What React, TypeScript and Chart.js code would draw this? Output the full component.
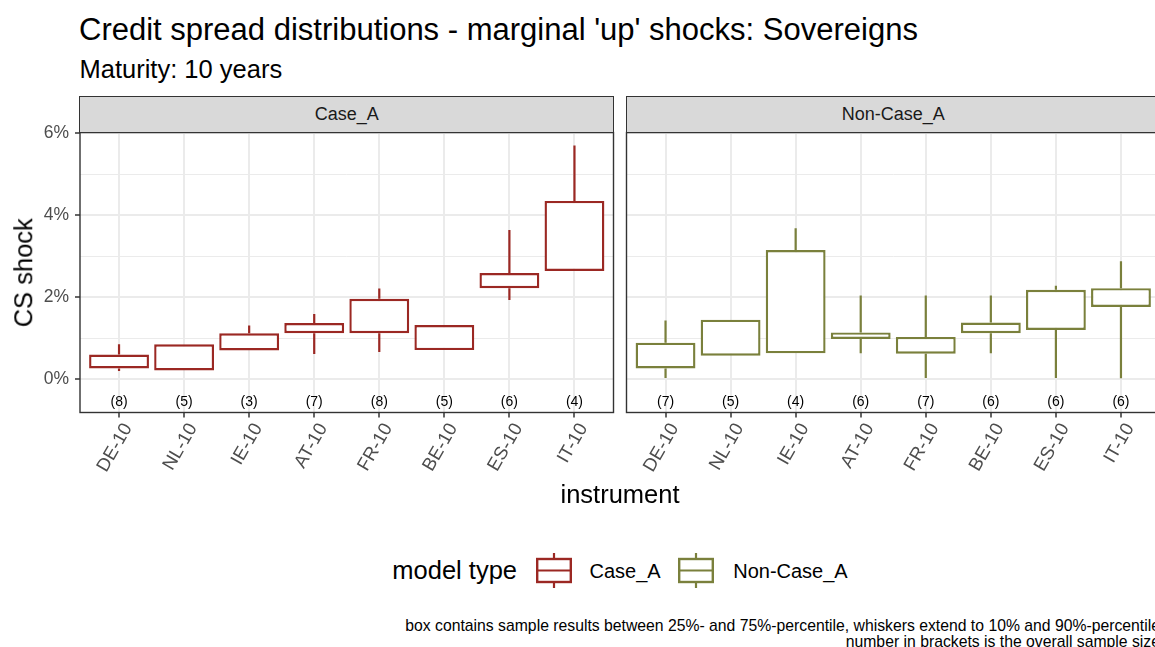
import React, { useEffect, useRef } from "react";
import { Chart, registerables } from "chart.js";

Chart.register(...registerables);

const FONT = "'Liberation Sans', Arial, Helvetica, sans-serif";
Chart.defaults.font.family = FONT;

// ---------- data ----------
const CATEGORIES = ["DE-10", "NL-10", "IE-10", "AT-10", "FR-10", "BE-10", "ES-10", "IT-10"];
const Y_TICKS = [0, 1, 2, 3, 4, 5, 6];
const Y_MIN = -0.815;
const Y_MAX = 6.02;
const X_MIN = -0.6;
const X_MAX = 7.6;
const COUNT_LABEL_Y = -0.55;

// Case_A (percent)
const CASE_A_P10 = [0.2, 0.21, 0.7, 0.61, 0.66, 0.71, 1.93, 2.64];
const CASE_A_P25 = [0.26, 0.21, 0.7, 1.12, 1.12, 0.71, 2.22, 2.64];
const CASE_A_P75 = [0.6, 0.85, 1.12, 1.37, 1.96, 1.32, 2.59, 4.35];
const CASE_A_P90 = [0.85, 0.85, 1.31, 1.59, 2.21, 1.32, 3.64, 5.7];
const CASE_A_N = [8, 5, 3, 7, 8, 5, 6, 4];

// Non-Case_A (percent)
const NON_P10 = [0.0, 0.57, 0.63, 0.63, 0.0, 0.63, 0.0, 0.02];
const NON_P25 = [0.26, 0.57, 0.63, 0.98, 0.62, 1.12, 1.2, 1.76];
const NON_P75 = [0.89, 1.45, 3.15, 1.14, 1.03, 1.38, 2.18, 2.22];
const NON_P90 = [1.43, 1.45, 3.68, 2.04, 2.04, 2.04, 2.28, 2.88];
const NON_N = [7, 5, 4, 6, 7, 6, 6, 6];

const COLOR_A = "#9B2823";
const COLOR_NON = "#7A803C";

const TEXT_COL = "#000000";
const AXIS_TEXT = "#4D4D4D";
const GRID = "#EBEBEB";
const DARK = "#333333";

// ---------- layout ----------
const PANEL_TOP = 132.5;
const PANEL_BOTTOM = 412.5;
const CANVAS_TOP = 122;
const CANVAS_H = 380;

function panelPlugin(counts: number[]) {
  return {
    id: "panelDecor",
    afterDatasetsDraw(chart: any) {
      const { ctx, chartArea: a, scales } = chart;
      ctx.save();
      ctx.font = `14px ${FONT}`;
      ctx.fillStyle = TEXT_COL;
      ctx.textAlign = "center";
      ctx.textBaseline = "middle";
      counts.forEach((n, i) => {
        ctx.fillText(`(${n})`, scales.x.getPixelForValue(i), scales.y.getPixelForValue(COUNT_LABEL_Y));
      });
      ctx.strokeStyle = DARK;
      ctx.lineWidth = 1.4;
      ctx.strokeRect(a.left, a.top, a.right - a.left, a.bottom - a.top);
      ctx.restore();
    },
  };
}

type PanelProps = {
  p10: number[];
  p25: number[];
  p75: number[];
  p90: number[];
  counts: number[];
  color: string;
  showY: boolean;
  canvasLeft: number;
  canvasWidth: number;
  padLeft: number;
  padRight: number;
  yWidth: number;
};

function BoxPanel(props: PanelProps) {
  const ref = useRef<HTMLCanvasElement>(null);
  useEffect(() => {
    const { p10, p25, p75, p90, counts, color, showY, padLeft, padRight, yWidth } = props;
    const boxes = CATEGORIES.map((_, i) => ({ x: i, y: [p25[i], p75[i]] }));
    const lowW = CATEGORIES.map((_, i) => ({ x: i, y: [p10[i], p25[i]] }));
    const highW = CATEGORIES.map((_, i) => ({ x: i, y: [p75[i], p90[i]] }));
    const whiskerStyle = {
      backgroundColor: color,
      borderWidth: 0,
      grouped: false,
      maxBarThickness: 2.2,
    };
    const xHeight = CANVAS_H - (PANEL_BOTTOM - CANVAS_TOP);
    const chart = new Chart(ref.current as HTMLCanvasElement, {
      type: "bar",
      data: {
        datasets: [
          { label: "low", data: lowW as any, ...whiskerStyle },
          { label: "high", data: highW as any, ...whiskerStyle },
          {
            label: "box",
            data: boxes as any,
            backgroundColor: "#FFFFFF",
            borderColor: color,
            borderWidth: 2.4,
            borderSkipped: false,
            grouped: false,
            barPercentage: 0.92,
            categoryPercentage: 1,
          },
        ],
      },
      options: {
        animation: false,
        responsive: false,
        events: [],
        layout: {
          autoPadding: false,
          padding: { top: PANEL_TOP - CANVAS_TOP, left: padLeft, right: padRight, bottom: 0 },
        },
        plugins: {
          legend: { display: false },
          tooltip: { enabled: false },
        },
        scales: {
          x: {
            type: "linear",
            min: X_MIN,
            max: X_MAX,
            offset: false,
            afterBuildTicks: (s: any) => {
              s.ticks = CATEGORIES.map((_, i) => ({ value: i }));
            },
            afterFit: (s: any) => {
              s.height = xHeight;
              s.paddingLeft = 0;
              s.paddingRight = 0;
            },
            ticks: {
              callback: (v: any) => CATEGORIES[Math.round(Number(v))],
              minRotation: 60,
              maxRotation: 60,
              autoSkip: false,
              color: AXIS_TEXT,
              font: { size: 18.5 },
              padding: 2,
              labelOffset: 9,
            },
            grid: {
              offset: false,
              color: GRID,
              lineWidth: 2,
              tickLength: 5,
              tickColor: DARK,
              tickWidth: 1.5,
            },
            border: { display: false },
          },
          y: {
            type: "linear",
            min: Y_MIN,
            max: Y_MAX,
            afterBuildTicks: (s: any) => {
              s.ticks = Y_TICKS.map((v) => ({ value: v }));
            },
            afterFit: (s: any) => {
              s.width = yWidth;
              s.paddingTop = 0;
              s.paddingBottom = 0;
            },
            ticks: {
              display: showY,
              callback: (v: any) => (Number(v) % 2 === 0 ? `${v}%` : ""),
              color: AXIS_TEXT,
              font: { size: 17.5 },
              padding: 6,
            },
            grid: {
              color: GRID,
              lineWidth: (c: any) => (c.tick && c.tick.value % 2 === 0 ? 2 : 1),
              drawTicks: showY,
              tickLength: 5,
              tickColor: (c: any) => (c.tick && c.tick.value % 2 === 0 ? DARK : "rgba(0,0,0,0)"),
              tickWidth: 1.5,
            },
            border: { display: false },
          },
        },
      } as any,
      plugins: [panelPlugin(counts)],
    });
    return () => chart.destroy();
  }, []);
  return (
    <canvas
      ref={ref}
      width={props.canvasWidth}
      height={CANVAS_H}
      style={{
        position: "absolute",
        left: props.canvasLeft,
        top: CANVAS_TOP,
        width: props.canvasWidth,
        height: CANVAS_H,
      }}
    />
  );
}

function Strip({ left, width, label }: { left: number; width: number; label: string }) {
  return (
    <div
      style={{
        position: "absolute",
        left,
        top: 96,
        width,
        height: PANEL_TOP - 96 + 0.7,
        boxSizing: "border-box",
        background: "#D9D9D9",
        border: `1.4px solid ${DARK}`,
        display: "flex",
        alignItems: "center",
        justifyContent: "center",
        fontSize: 18,
        color: "#1A1A1A",
      }}
    >
      {label}
    </div>
  );
}

function LegendKey({ color }: { color: string }) {
  return (
    <svg width={36} height={36} viewBox="0 0 36 36" style={{ display: "block" }}>
      <line x1={18} y1={0} x2={18} y2={6} stroke={color} strokeWidth={2.2} />
      <line x1={18} y1={29} x2={18} y2={35} stroke={color} strokeWidth={2.2} />
      <rect x={1.2} y={6} width={33.6} height={23} fill="#FFFFFF" stroke={color} strokeWidth={2.4} />
      <line x1={1} y1={17.5} x2={35} y2={17.5} stroke={color} strokeWidth={2.2} />
    </svg>
  );
}

export default function App() {
  return (
    <div
      style={{
        position: "fixed",
        left: 0,
        top: 0,
        width: 1155,
        height: 647,
        overflow: "hidden",
        background: "#FFFFFF",
        fontFamily: FONT,
        color: TEXT_COL,
      }}
    >
      <div style={{ position: "absolute", left: 79, top: 13.5, fontSize: 31, lineHeight: "31px", whiteSpace: "nowrap" }}>
        Credit spread distributions - marginal 'up' shocks: Sovereigns
      </div>
      <div style={{ position: "absolute", left: 79.5, top: 56.5, fontSize: 25.5, lineHeight: "25.5px", whiteSpace: "nowrap" }}>
        Maturity: 10 years
      </div>

      <BoxPanel
        p10={CASE_A_P10}
        p25={CASE_A_P25}
        p75={CASE_A_P75}
        p90={CASE_A_P90}
        counts={CASE_A_N}
        color={COLOR_A}
        showY={true}
        canvasLeft={0}
        canvasWidth={620}
        padLeft={0}
        padRight={6.5}
        yWidth={80}
      />
      <BoxPanel
        p10={NON_P10}
        p25={NON_P25}
        p75={NON_P75}
        p90={NON_P90}
        counts={NON_N}
        color={COLOR_NON}
        showY={false}
        canvasLeft={620}
        canvasWidth={545}
        padLeft={6.5}
        padRight={5}
        yWidth={0}
      />

      <Strip left={79.3} width={534.9} label="Case_A" />
      <Strip left={625.8} width={534.9} label="Non-Case_A" />

      <div
        style={{
          position: "absolute",
          left: 23.5 - 100,
          top: 272.5 - 12.75,
          width: 200,
          height: 25.5,
          fontSize: 25.5,
          lineHeight: "25.5px",
          textAlign: "center",
          transform: "rotate(-90deg)",
          transformOrigin: "50% 50%",
          whiteSpace: "nowrap",
        }}
      >
        CS shock
      </div>

      <div
        style={{
          position: "absolute",
          left: 420,
          width: 400,
          top: 481.5,
          fontSize: 25.5,
          lineHeight: "25.5px",
          textAlign: "center",
        }}
      >
        instrument
      </div>

      <div
        style={{
          position: "absolute",
          left: 0,
          width: 1240,
          top: 553,
          height: 36,
          display: "flex",
          alignItems: "center",
          justifyContent: "center",
          whiteSpace: "nowrap",
        }}
      >
        <span style={{ fontSize: 25.5, lineHeight: "25.5px", marginRight: 19 }}>model type</span>
        <LegendKey color={COLOR_A} />
        <span style={{ fontSize: 20, lineHeight: "20px", marginLeft: 17.5, marginRight: 17.5 }}>Case_A</span>
        <LegendKey color={COLOR_NON} />
        <span style={{ fontSize: 20, lineHeight: "20px", marginLeft: 19 }}>Non-Case_A</span>
      </div>

      <div
        style={{
          position: "absolute",
          left: 0,
          width: 1160,
          top: 618,
          fontSize: 15.75,
          lineHeight: "15.5px",
          textAlign: "right",
          whiteSpace: "nowrap",
        }}
      >
        <div>box contains sample results between 25%- and 75%-percentile, whiskers extend to 10% and 90%-percentile</div>
        <div>number in brackets is the overall sample size</div>
      </div>
    </div>
  );
}
